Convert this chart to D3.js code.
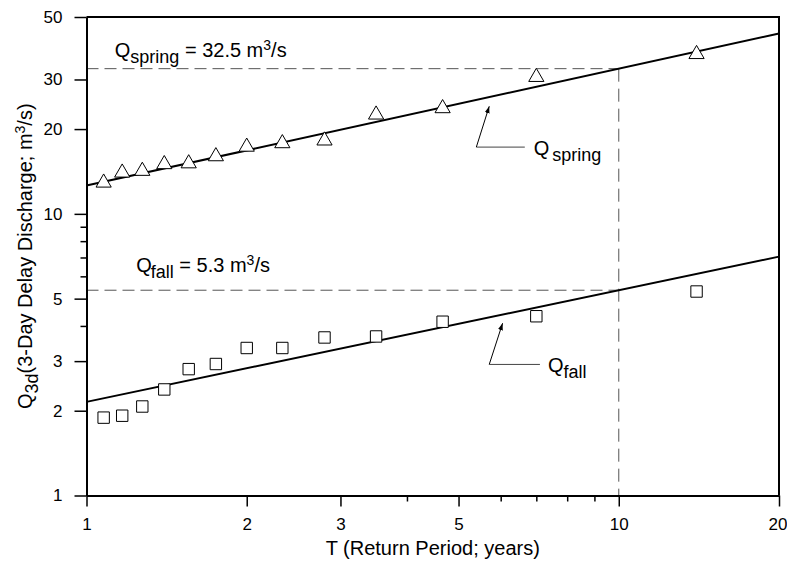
<!DOCTYPE html>
<html lang="en">
  <head>
    <meta charset="utf-8">
    <title>Return period of 3-day delay discharge</title>
    <script type="text/javascript" src="https://cdn.jsdelivr.net/npm/d3@7/dist/d3.min.js"></script>
    <style>
      body { margin: 0; background: white; }
      text { font-family: Arial, "Liberation Sans", Helvetica, sans-serif; fill: black; }
    </style>
  </head>

  <body>
    <script>
      // return period of each ranked flow (years)
      var returnPeriod = [1.077, 1.167, 1.273, 1.4, 1.556, 1.75, 2, 2.333, 2.8, 3.5, 4.667, 7, 14]
      // 3-day delay discharge, m3/s
      var springQ = [12.9, 14.0, 14.2, 15.0, 15.1, 16.0, 17.3, 17.8, 18.2, 22.5, 23.7, 30.6, 36.9]
      var fallQ = [1.89, 1.92, 2.07, 2.38, 2.81, 2.93, 3.34, 3.34, 3.64, 3.67, 4.14, 4.33, 5.30]

      // fitted lines, as [T, Q] end points
      var springFit = [[1, 12.6], [20, 43.7]]
      var fallFit = [[1, 2.15], [20, 7.05]]
      var designT = 10

      var xMajor = [1, 2, 3, 5, 10, 20]
      var xMinor = [4, 6, 7, 8, 9]
      var yMajor = [1, 2, 3, 5, 10, 20, 30, 50]
      var yMinor = [4, 6, 7, 8, 9]

      var width = 787, height = 564
      // plot box (note: "top" is taken by window.top, so use other names)
      var pLeft = 86.5, pRight = 779, pTop = 17, pBottom = 495.5

      var svg = d3.select('body').append('svg').attr('width', width).attr('height', height)

      var x = d3.scaleLog().domain([1, 20]).range([pLeft, pRight])
      var y = d3.scaleLog().domain([1, 50]).range([pBottom, pTop])

      // value of a fitted line at T (straight in log-log)
      function fitAt(fit, t) {
        var lt = Math.log10, f = (lt(t) - lt(fit[0][0])) / (lt(fit[1][0]) - lt(fit[0][0]))
        return Math.pow(10, lt(fit[0][1]) + f * (lt(fit[1][1]) - lt(fit[0][1])))
      }

      // dashed design lines
      var dash = svg.append('g').attr('stroke', '#555').attr('stroke-width', 1).attr('fill', 'none')
      ;[springFit, fallFit].forEach(function(fit) {
        var q = fitAt(fit, designT)
        dash.append('line').attr('x1', pLeft).attr('x2', x(designT))
          .attr('y1', y(q)).attr('y2', y(q)).attr('stroke-dasharray', '12,6')
      })
      dash.append('line').attr('x1', x(designT)).attr('x2', x(designT))
        .attr('y1', y(fitAt(springFit, designT))).attr('y2', pBottom).attr('stroke-dasharray', '13,7')

      // frame on top and right
      svg.append('path').attr('d', 'M' + pLeft + ',' + pTop + 'H' + pRight + 'V' + pBottom)
        .attr('fill', 'none').attr('stroke', 'black').attr('stroke-width', 2)

      // axes
      var xAxis = svg.append('g').attr('transform', 'translate(0,' + pBottom + ')')
        .call(d3.axisBottom(x).tickValues(xMajor).tickFormat(d3.format('d')).tickSize(11).tickSizeOuter(0).tickPadding(11))
      svg.append('g').attr('transform', 'translate(0,' + pBottom + ')')
        .call(d3.axisBottom(x).tickValues(xMinor).tickFormat('').tickSize(6).tickSizeOuter(0))
        .select('.domain').remove()
      svg.append('g').attr('transform', 'translate(' + pLeft + ',0)')
        .call(d3.axisLeft(y).tickValues(yMajor).tickFormat(d3.format('d')).tickSize(12).tickSizeOuter(0).tickPadding(12))
      svg.append('g').attr('transform', 'translate(' + pLeft + ',0)')
        .call(d3.axisLeft(y).tickValues(yMinor).tickFormat('').tickSize(6).tickSizeOuter(0))
        .select('.domain').remove()

      svg.selectAll('.domain').attr('stroke-width', 2)
      svg.selectAll('.tick line').attr('stroke-width', 1.5)
      svg.selectAll('.tick text').attr('font-size', 17).attr('font-family', 'Arial, "Liberation Sans", sans-serif')
      // last x label sits on the page edge, keep it inside
      xAxis.selectAll('.tick text').filter(function(d) { return d === 20 }).attr('text-anchor', 'end').attr('dx', 8)

      // fitted lines
      var line = d3.line().x(function(d) { return x(d[0]) }).y(function(d) { return y(d[1]) })
      svg.append('path').datum(springFit).attr('d', line).attr('fill', 'none').attr('stroke', 'black').attr('stroke-width', 2)
      svg.append('path').datum(fallFit).attr('d', line).attr('fill', 'none').attr('stroke', 'black').attr('stroke-width', 2)

      // observed points
      svg.append('g').selectAll('path').data(returnPeriod).enter().append('path')
        .attr('d', d3.symbol().type(d3.symbolTriangle).size(100))
        .attr('transform', function(d, i) { return 'translate(' + x(d) + ',' + y(springQ[i]) + ')' })
        .attr('fill', 'white').attr('stroke', 'black').attr('stroke-width', 1)
      svg.append('g').selectAll('path').data(returnPeriod).enter().append('path')
        .attr('d', d3.symbol().type(d3.symbolSquare).size(130))
        .attr('transform', function(d, i) { return 'translate(' + x(d) + ',' + y(fallQ[i]) + ')' })
        .attr('fill', 'white').attr('stroke', 'black').attr('stroke-width', 1)

      // labels: write Q with subscript / superscript parts
      function qLabel(px, py, sub, rest, gap) {
        var t = svg.append('text').attr('x', px).attr('y', py).attr('font-size', 20)
        t.append('tspan').text('Q')
        t.append('tspan').attr('dy', 6).attr('dx', gap).attr('font-size', 18).text(sub)
        if (rest) {
          t.append('tspan').attr('dy', -6).text(rest)
          t.append('tspan').attr('dy', -7).attr('font-size', 14).text('3')
          t.append('tspan').attr('dy', 7).text('/s')
        }
        return t
      }
      qLabel(x(1.13), y(36.1), 'spring', ' = 32.5 m', 0)
      qLabel(x(1.24), y(6.24), 'fall', ' = 5.3 m', -1)
      qLabel(x(6.92), y(16.2), 'spring', null, 3)
      qLabel(x(7.36), y(2.75), 'fall', null, 0)

      // arrows pointing at the fitted lines
      svg.append('defs').append('marker').attr('id', 'head').attr('viewBox', '0 0 10 10')
        .attr('refX', 10).attr('refY', 5).attr('markerWidth', 7).attr('markerHeight', 7)
        .attr('markerUnits', 'userSpaceOnUse').attr('orient', 'auto')
        .append('path').attr('d', 'M0,1.5L10,5L0,8.5Z').attr('fill', 'black')
      var arrows = [
        {tip: [5.71, 24.1], corner: [5.40, 17.26], end: [6.66, 17.26]},
        {tip: [6.05, 4.09], corner: [5.71, 2.92], end: [7.11, 2.92]}
      ]
      arrows.forEach(function(a) {
        svg.append('line').attr('x1', x(a.corner[0])).attr('y1', y(a.corner[1]))
          .attr('x2', x(a.end[0])).attr('y2', y(a.end[1])).attr('stroke', '#444').attr('stroke-width', 1)
        svg.append('line').attr('x1', x(a.corner[0])).attr('y1', y(a.corner[1]))
          .attr('x2', x(a.tip[0])).attr('y2', y(a.tip[1])).attr('stroke', 'black').attr('stroke-width', 1)
          .attr('marker-end', 'url(#head)')
      })

      // axis titles
      svg.append('text').attr('x', (pLeft + pRight) / 2).attr('y', 555).attr('text-anchor', 'middle')
        .attr('font-size', 20).text('T (Return Period; years)')
      var yt = svg.append('text').attr('transform', 'translate(32,' + (pTop + pBottom) / 2 + ') rotate(-90)')
        .attr('text-anchor', 'middle').attr('font-size', 20)
      yt.append('tspan').text('Q')
      yt.append('tspan').attr('dy', 6).attr('font-size', 18).text('3d')
      yt.append('tspan').attr('dy', -6).text('(3-Day Delay Discharge; m')
      yt.append('tspan').attr('dy', -7).attr('font-size', 14).text('3')
      yt.append('tspan').attr('dy', 7).text('/s)')
    </script>
  </body>
</html>
